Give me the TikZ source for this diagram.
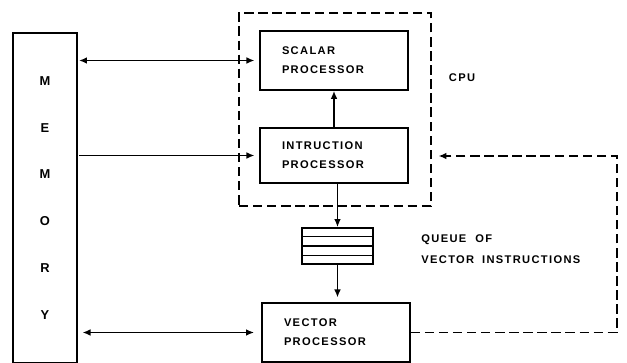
\documentclass[tikz,border=0pt]{standalone}
\usepackage{fontspec}
\newfontfamily\lbl[LetterSpace=12,BoldFont=Liberation Sans Bold]{Liberation Sans}
\usetikzlibrary{arrows.meta,positioning,calc}

\begin{document}
\begin{tikzpicture}[line width=1.4pt, every node/.style={font=\lbl\bfseries\fontsize{9.5}{16.2}\selectfont},
			b/.style={draw, minimum width=4.44cm, minimum height=1.77cm, text width=3.12cm, inner xsep=0.66cm, align=left},
			ar/.style={-{Latex[length=2.4mm,width=2mm]}},
			dar/.style={{Latex[length=2.4mm,width=2mm]}-{Latex[length=2.4mm,width=2mm]}},
			dsh/.style={dash pattern=on 8pt off 4pt}]
			\useasboundingbox (0,0) rectangle (18.81,10.89);
			% memory column
			\node[draw, minimum width=1.92cm, minimum height=9.9cm, align=center,
				font=\lbl\bfseries\fontsize{11}{40}\selectfont] (mem) at (1.35,4.95) {M\\E\\M\\O\\R\\Y};
			% cpu
			\node[draw, dsh, minimum width=5.76cm, minimum height=5.79cm] (cpu) at (10.05,7.605) {};
			\node (cpulbl) at (13.86,8.55) {CPU};
			\node[b] (scalar) at (10.02,9.075) {SCALAR\\PROCESSOR};
			\node[b, minimum height=1.65cm] (instr) at (10.02,6.225) {INTRUCTION\\PROCESSOR};
			% queue
			\node[draw, minimum width=2.13cm, minimum height=1.08cm] (queue) at (10.125,3.51) {};
			\foreach \i in {1,2,3}
				\draw ($(queue.north west)!\i/4!(queue.south west)$) -- ($(queue.north east)!\i/4!(queue.south east)$);
			\node[anchor=west, align=left] (qlbl) at (12.5,3.42) {QUEUE\hspace{4pt} OF\\[2pt]VECTOR\hspace{3pt} INSTRUCTIONS};
			\node[b] (vec) at (10.08,0.915) {VECTOR\\PROCESSOR};
			% connectors
			\draw[dar, shorten <=1pt, shorten >=4pt] (mem.east |- scalar.west) -- (scalar.west);
			\draw[ar, shorten <=1pt, shorten >=4pt] (mem.east |- instr.west) -- (instr.west);
			\draw[dar, shorten <=4pt, shorten >=6pt] (mem.east |- vec.west) -- (vec.west);
			\draw[ar] (instr.north) -- (scalar.south);
			\draw[ar] (instr.south -| queue.north) -- (queue.north);
			\draw[ar, shorten >=4pt] (queue.south) -- (queue.south |- vec.north);
			\coordinate (fb) at (18.51,6.21);
			\draw[ar, dsh] (vec.east) -| (fb) -- ([xshift=2mm]cpu.east |- fb);
		\end{tikzpicture}
\end{document}
